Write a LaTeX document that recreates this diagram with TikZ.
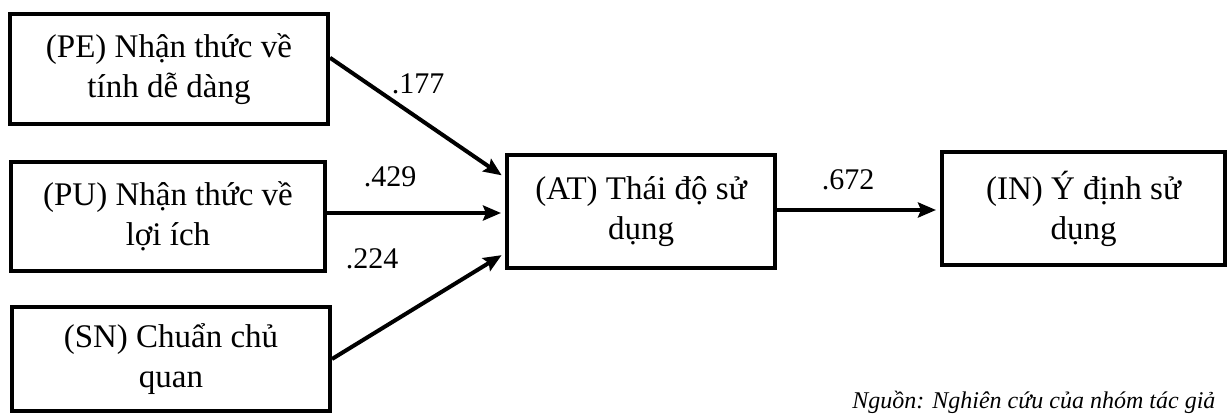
\documentclass[tikz,border=0pt]{standalone}
\usepackage{fontspec}
\setmainfont{Liberation Serif}
\usetikzlibrary{arrows.meta,calc}
\tikzset{
  box/.style={draw=black, line width=2pt, fill=white, align=center, inner sep=0pt,
    font=\fontsize{16.5}{20}\selectfont},
  link/.style={line width=2pt, -{Stealth[length=9pt,width=7.5pt,inset=1.5pt]}, shorten >=2pt},
  coef/.style={font=\fontsize{15}{18}\selectfont, inner sep=0pt},
  src/.style={font=\fontsize{12}{14}\selectfont\itshape, inner sep=0pt, anchor=base west}
}
\begin{document}
\begin{tikzpicture}[x=0.5pt,y=-0.5pt]
\useasboundingbox (0,0) rectangle (1230,417);
\node[box, minimum width=159pt, minimum height=55pt] (PE) at (169,69) {(PE) Nhận thức về\\tính dễ dàng};
\node[box, minimum width=157pt, minimum height=54.5pt] (PU) at (168,216.5) {(PU) Nhận thức về\\lợi ích};
\node[box, minimum width=159pt, minimum height=52pt] (SN) at (171,359) {(SN) Chuẩn chủ\\quan};
\node[box, minimum width=134pt, minimum height=56.5pt] (AT) at (641,211.5) {(AT) Thái độ sử\\dụng};
\node[box, minimum width=141.5pt, minimum height=56.5pt] (IN) at (1083.5,208.5) {(IN) Ý định sử\\dụng};
\draw[link] (PE.4) -- (AT.166);
\draw[link] (PU.east |- 0,213) -- (AT.west |- 0,213);
\draw[link] (SN.east) -- (AT.197);
\draw[link] (AT.east |- 0,210) -- (IN.west |- 0,210);
\node[coef] (c1) at (418,84) {.177};
\node[coef] (c2) at (390,177) {.429};
\node[coef] (c3) at (372,259) {.224};
\node[coef] (c4) at (848,180) {.672};
\node[src] (source) at (852,408) {Nguồn: Nghiên cứu của nhóm tác giả};
\end{tikzpicture}
\end{document}
